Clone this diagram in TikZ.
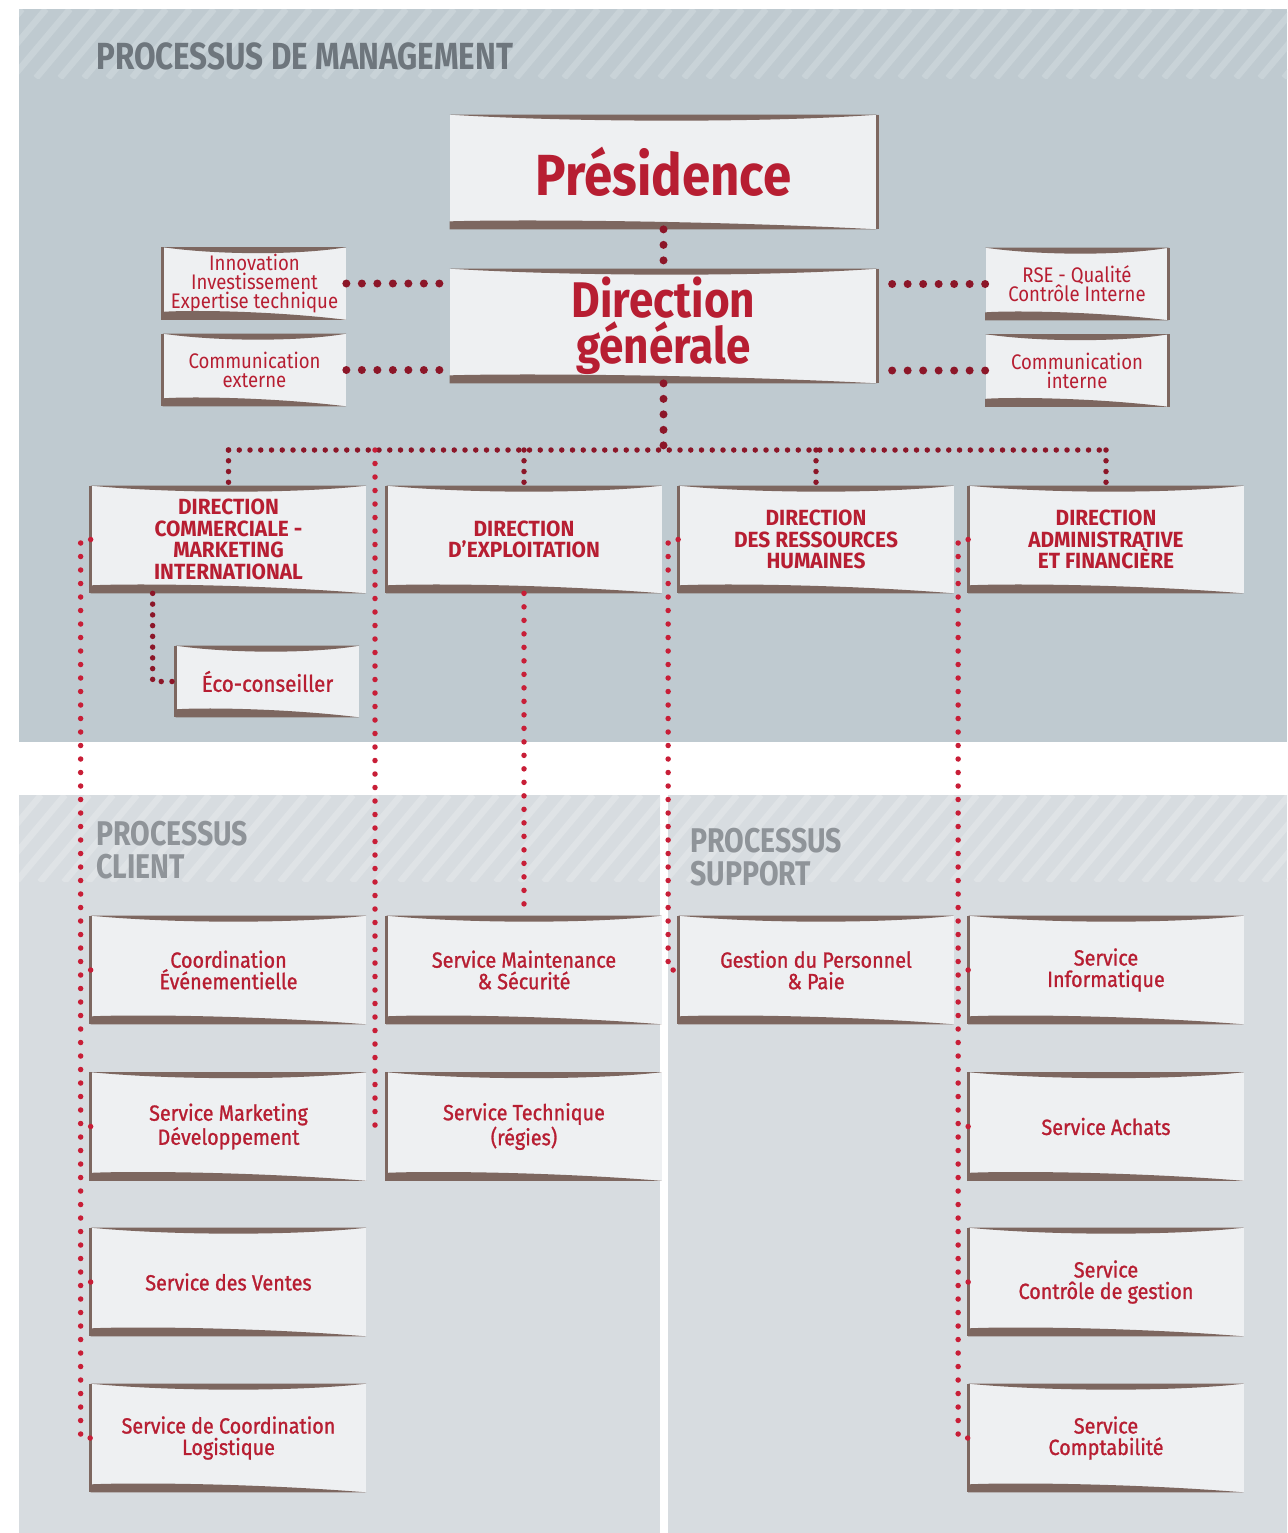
\documentclass[tikz,border=0pt]{standalone}
\usepackage{fontspec}
\setmainfont{Fira Sans}[FakeStretch=0.88]
\newfontfamily\headfont{Fira Sans}[FakeStretch=0.83]
\newfontfamily\dirfont{Fira Sans}[FakeStretch=0.95]
\newfontfamily\servfont{Fira Sans}[FakeStretch=0.9, FakeBold=1.1]
\usepackage{tikz}
\usetikzlibrary{calc}

\definecolor{topbg}{RGB}{191,202,208}
\definecolor{topstripe}{RGB}{201,211,216}
\definecolor{lowbg}{RGB}{215,220,224}
\definecolor{lowstripe}{RGB}{223,227,230}
\definecolor{boxfill}{RGB}{238,240,242}
\definecolor{edge}{RGB}{125,103,96}
\definecolor{redtxt}{RGB}{183,30,50}
\definecolor{dotdark}{RGB}{140,22,40}
\definecolor{dotred}{RGB}{200,30,55}
\definecolor{headgray}{RGB}{110,118,125}
\definecolor{headlight}{RGB}{143,148,153}

% tapered top and bottom bands, plus one side edge (west or east)
\newcommand{\unitframe}[2]{%
  \fill[edge] (#1.north west) -- (#1.north east)
    .. controls ($(#1.north west)!0.75!(#1.north east)+(0,8)$) and ($(#1.north west)!0.3!(#1.north east)+(0,8)$) .. (#1.north west) -- cycle;
  \fill[edge] (#1.south west) -- (#1.south east)
    .. controls ($(#1.south west)!0.6!(#1.south east)+(0,-9)$) and ($(#1.south west)!0.15!(#1.south east)+(0,-10)$) .. ($(#1.south west)+(0,-8)$) -- cycle;
  \draw[edge, line width=0.6mm] (#1.north #2) -- (#1.south #2);
}

\begin{document}
\begin{tikzpicture}[x=0.2mm, y=-0.2mm]
    \tikzstyle{unit} = [fill=boxfill, inner sep=0pt, align=center, text=redtxt]
    \tikzstyle{bigbox} = [unit, minimum width=85.4mm, minimum height=22.8mm]
    \tikzstyle{sidebox} = [unit, minimum width=36.6mm, minimum height=14.4mm, font=\fontsize{12}{10.8}\selectfont]
    \tikzstyle{dirbox} = [unit, minimum width=55mm, minimum height=21.4mm, font=\dirfont\fontsize{12.5}{12.2}\selectfont\bfseries]
    \tikzstyle{servbox} = [unit, minimum width=55mm, minimum height=21.6mm, font=\servfont\fontsize{12.5}{12.2}\selectfont]
    \tikzstyle{bigdots} = [draw=dotdark, line width=1.6mm, line cap=round, dash pattern=on 0pt off 3.1mm]
    \tikzstyle{busdots} = [draw=dotdark, line width=1.1mm, line cap=round, dash pattern=on 0pt off 2.15mm]
    \tikzstyle{linkdots} = [draw=dotred, line width=1.1mm, line cap=round, dash pattern=on 0pt off 2.7mm]

    \useasboundingbox (0,0) rectangle (1287,1533);

    % Panels
    \fill[topbg] (19,9) rectangle (1287,742);
    \fill[lowbg] (19,795) rectangle (660,1533);
    \fill[lowbg] (668,795) rectangle (1287,1533);

    % Striped header bands
    \begin{scope}
        \clip (19,9) rectangle (1287,78);
        \foreach \s in {-60,-36,...,1300}
            \draw[topstripe, line width=1.3mm] (\s,78) -- ++(58,-69);
    \end{scope}
    \begin{scope}
        \clip (19,795) rectangle (660,882) (668,795) rectangle (1287,882);
        \foreach \s in {-80,-56,...,1300}
            \draw[lowstripe, line width=1.3mm] (\s,882) -- ++(73,-87);
    \end{scope}

    % Panel titles
    \node[anchor=west, inner sep=0pt, text=headgray, font=\headfont\fontsize{21.5}{21.5}\selectfont\bfseries] (mgmt) at (96,56) {PROCESSUS DE MANAGEMENT};
    \node[anchor=west, inner sep=0pt, align=left, text=headlight, font=\headfont\fontsize{19.5}{18.5}\selectfont\bfseries] (client) at (96,850) {PROCESSUS\\CLIENT};
    \node[anchor=west, inner sep=0pt, align=left, text=headlight, font=\headfont\fontsize{19.5}{18.5}\selectfont\bfseries] (support) at (690,857) {PROCESSUS\\SUPPORT};

    % Management boxes
    \node[bigbox, font=\fontsize{33}{33}\selectfont\bfseries] (pres) at (663.5,172) {Présidence};
    \node[bigbox, font=\fontsize{28.5}{26}\selectfont\bfseries] (dg) at (663.5,326) {Direction\\générale};
    \node[sidebox] (innov) at (254.5,283.5) {Innovation\\Investissement\\Expertise technique};
    \node[sidebox] (comext) at (254.5,370) {Communication\\externe};
    \node[sidebox] (rse) at (1077,284) {RSE - Qualité\\Contrôle Interne};
    \node[sidebox] (comint) at (1077,370.5) {Communication\\interne};

    % Directions
    \node[dirbox] (dcmi) at (228.5,539.5) {DIRECTION\\COMMERCIALE -\\MARKETING\\INTERNATIONAL};
    \node[dirbox] (dex) at (524,539.5) {DIRECTION\\D’EXPLOITATION};
    \node[dirbox] (drh) at (816,539.5) {DIRECTION\\DES RESSOURCES\\HUMAINES};
    \node[dirbox] (daf) at (1106,539.5) {DIRECTION\\ADMINISTRATIVE\\ET FINANCIÈRE};
    \node[unit, minimum width=36.6mm, minimum height=14.2mm, font=\servfont\fontsize{13}{13}\selectfont] (eco) at (267.5,681.5) {Éco-conseiller};

    % Services
    \node[servbox] (coord) at (228.5,970) {Coordination\\Événementielle};
    \node[servbox] (mkt) at (228.5,1126.5) {Service Marketing\\Développement};
    \node[servbox] (ventes) at (228.5,1282) {Service des Ventes};
    \node[servbox] (logi) at (228.5,1438) {Service de Coordination\\Logistique};
    \node[servbox] (maint) at (524,970) {Service Maintenance\\\& Sécurité};
    \node[servbox] (techn) at (524,1126.5) {Service Technique\\(régies)};
    \node[servbox] (gest) at (816,970) {Gestion du Personnel\\\& Paie};
    \node[servbox] (info) at (1106,970) {Service\\Informatique};
    \node[servbox] (achats) at (1106,1126.5) {Service Achats};
    \node[servbox] (ctrl) at (1106,1282) {Service\\Contrôle de gestion};
    \node[servbox] (compta) at (1106,1438) {Service\\Comptabilité};

    % Frames
    \foreach \n in {pres,dg,rse,comint} {\unitframe{\n}{east}}
    \foreach \n in {innov,comext,dcmi,dex,drh,daf,eco,coord,mkt,ventes,logi,maint,techn,gest,info,achats,ctrl,compta} {\unitframe{\n}{west}}

    % Management links
    \draw[bigdots] (pres.south) -- (dg.north);
    \draw[bigdots] (innov.east) -- (innov.east -| dg.west);
    \draw[bigdots] (comext.east) -- (comext.east -| dg.west);
    \draw[bigdots] (rse.west) -- (rse.west -| dg.east);
    \draw[bigdots] (comint.west) -- (comint.west -| dg.east);

    % Bus to the directions
    \coordinate (bus) at (663.5,450);
    \draw[bigdots] (dg.south) -- (bus);
    \draw[busdots] (dcmi.north |- bus) -- (daf.north |- bus);
    \foreach \n in {dcmi,dex,drh,daf} {
        \draw[busdots] (\n.north |- bus) -- (\n.north);
    }
    \draw[busdots] ($(dcmi.south west)+(62,0)$) |- (eco.west);

    % Links to the services
    \coordinate (tap) at (375,450);
    \draw[linkdots] (dcmi.west) -- ++(-10,0) |- (logi.west);
    \foreach \n in {coord,mkt,ventes} {
        \draw[linkdots] (\n.west) -- ++(-10,0);
    }
    \draw[linkdots] (tap) |- (techn.west);
    \draw[linkdots] (dex.south) -- (maint.north);
    \draw[linkdots] (drh.west) -- ++(-10,0) |- (gest.west);
    \draw[linkdots] (daf.west) -- ++(-10,0) |- (compta.west);
    \foreach \n in {info,achats,ctrl} {
        \draw[linkdots] (\n.west) -- ++(-10,0);
    }
\end{tikzpicture}
\end{document}
